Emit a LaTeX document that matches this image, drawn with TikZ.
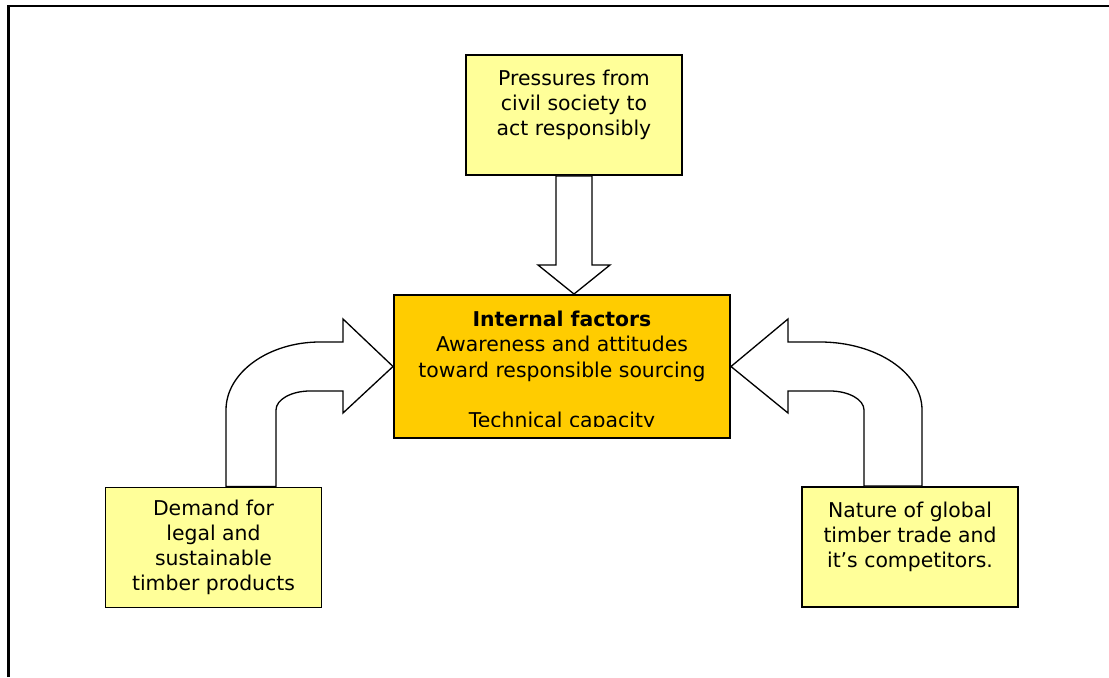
\documentclass[tikz,border=0pt]{standalone}
\usepackage{fontspec}
\setmainfont{DejaVu Sans}
\usetikzlibrary{calc}
\definecolor{paleyellow}{RGB}{255,255,153}
\definecolor{amber}{RGB}{255,204,0}

\begin{document}
\begin{tikzpicture}[auto,
  factor/.style={draw, line width=1.1pt, fill=paleyellow, minimum width=4.32cm, minimum height=2.40cm, align=center, font=\fontsize{11.6}{14.3}\selectfont},
  inner/.style={factor, fill=amber, minimum width=6.72cm, minimum height=2.86cm},
  blockarrow/.style={draw, fill=white, line width=0.75pt, line join=miter}]
\useasboundingbox (0,0) rectangle (22.18,13.54);
\draw[line width=1.2pt] (0.17,0) -- (0.17,13.42) -- (22.18,13.42);
\node[factor] (press) at (11.48,11.24) {Pressures from\\civil society to\\act responsibly\\\mbox{}};
\node[factor] (demand) at (4.27,2.59) {Demand for\\legal and\\sustainable\\timber products};
\node[factor] (trade) at (18.20,2.60) {Nature of global\\timber trade and\\it’s competitors.\\\mbox{}};
\node[inner] (core) at (11.24,6.21) {};
\begin{scope}
\clip (7.9,5.0) rectangle (14.58,7.62);
\node[align=center, font=\fontsize{11.6}{14.3}\selectfont] (coretext) at ($(core.center)+(0,-0.1)$) {\textbf{Internal factors}\\Awareness and attitudes\\toward responsible sourcing\\[14.3pt]Technical capacity};
\end{scope}
\draw[blockarrow] ($(press.south)+(-0.36,0)$) -- (11.12,8.24) -- (10.76,8.24) -- (press.south |- core.north) -- (12.20,8.24) -- (11.84,8.24) -- ($(press.south)+(0.36,0)$) -- cycle;
\draw[blockarrow] ($(demand.north)+(0.25,0)$) -- (4.52,5.34) .. controls (4.52,6.09) and (5.37,6.70) .. (6.40,6.70) -- (6.86,6.70) -- (6.86,7.16) -- (core.west) -- (6.86,5.28) -- (6.86,5.72) -- (6.20,5.72) .. controls (5.83,5.72) and (5.52,5.55) .. (5.52,5.34) -- ($(demand.north)+(1.25,0)$) -- cycle;
\draw[blockarrow] ($(trade.north)+(0.24,0)$) -- (18.44,5.34) .. controls (18.44,6.09) and (17.52,6.70) .. (16.40,6.70) -- (15.76,6.70) -- (15.76,7.16) -- (core.east) -- (15.76,5.28) -- (15.76,5.72) -- (16.60,5.72) .. controls (16.97,5.72) and (17.28,5.55) .. (17.28,5.34) -- ($(trade.north)+(-0.92,0)$) -- cycle;
\end{tikzpicture}
\end{document}
